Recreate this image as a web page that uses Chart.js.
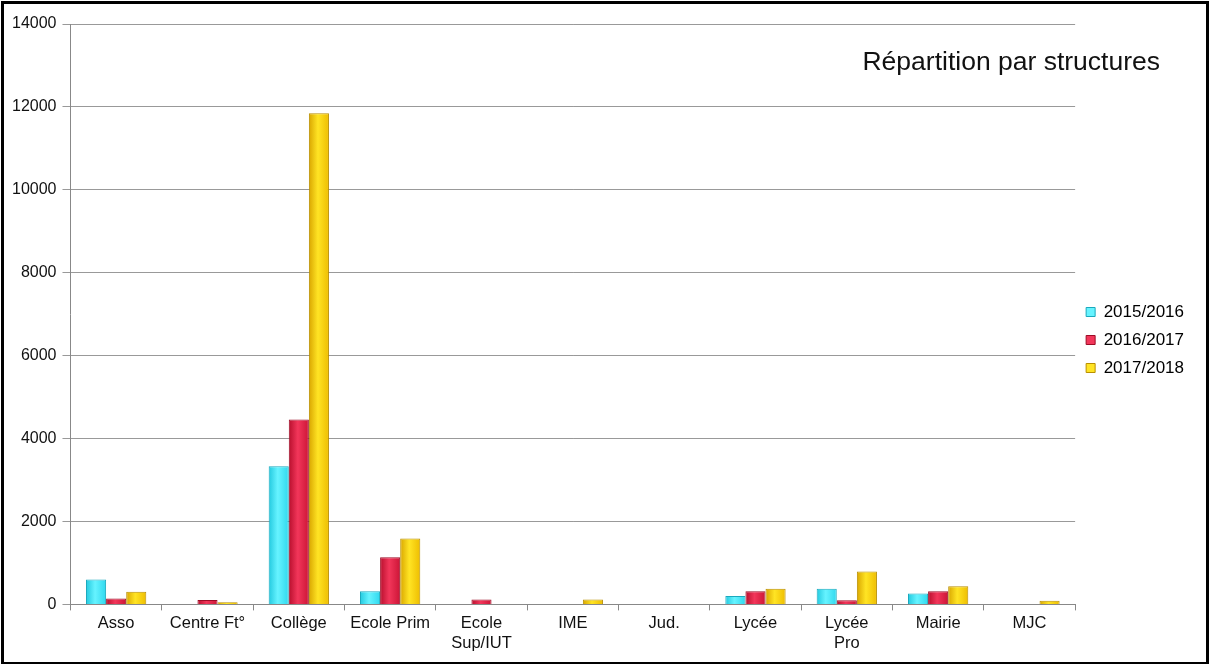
<!DOCTYPE html>
<html>
<head>
<meta charset="utf-8">
<script src="https://cdn.jsdelivr.net/npm/chart.js@4/dist/chart.umd.min.js"></script>
<style>
  body { margin: 0; background: #fff; }
  #wrap { position: absolute; left: 1px; top: 1px; width: 1202px; height: 658px; border: 3px solid #000; }
</style>
</head>
<body>
<div id="wrap"><canvas id="structures"></canvas></div>
<script>
const categories = ['Asso', 'Centre Ft°', 'Collège', 'Ecole Prim', ['Ecole', 'Sup/IUT'], 'IME', 'Jud.', 'Lycée', ['Lycée', 'Pro'], 'Mairie', 'MJC']
const seriesNames = ['2015/2016', '2016/2017', '2017/2018']
const values2015 = [600, 0, 3330, 320, 0, 0, 0, 200, 380, 265, 0]
const values2016 = [140, 105, 4460, 1140, 120, 0, 0, 320, 100, 320, 0]
const values2017 = [305, 50, 11850, 1590, 0, 120, 0, 380, 795, 435, 90]
const yTicks = [0, 2000, 4000, 6000, 8000, 10000, 12000, 14000]

const colors = [
    ['#22c9df', '#66f3ff', '#2fd8ee'],
    ['#b80f2d', '#f2365a', '#cc1536'],
    ['#d9a600', '#ffe424', '#eebd00']
]
const borders = ['#1aa9bd', '#9c0c26', '#b98f00']
const font = '"Liberation Sans", Arial, sans-serif'

const context = document.getElementById('structures').getContext('2d')

// horizontal gradient on each bar for the bevelled look
const bevelPlugin = {
    id: 'bevel',
    beforeDatasetDraw: (chart, args) => {
        const i = args.index
        const c = chart.ctx
        args.meta.data.forEach(bar => {
            const x0 = bar.x - bar.width / 2
            const g = c.createLinearGradient(x0, 0, x0 + bar.width, 0)
            g.addColorStop(0, colors[i][0])
            g.addColorStop(0.45, colors[i][1])
            g.addColorStop(1, colors[i][2])
            bar.options = Object.assign({}, bar.options, { backgroundColor: g })
        })
    }
}

const titlePlugin = {
    id: 'cornerTitle',
    afterDraw: (chart) => {
        const c = chart.ctx
        c.save()
        c.font = '26.5px ' + font
        c.fillStyle = '#111'
        c.textAlign = 'right'
        c.textBaseline = 'middle'
        c.fillText('Répartition par structures', chart.width - 46, 59)
        c.restore()
    }
}

const datasets = [values2015, values2016, values2017].map((values, i) => ({
    label: seriesNames[i],
    data: values,
    backgroundColor: () => colors[i][1],
    borderColor: borders[i],
    borderWidth: 1,
    barPercentage: 1.0,
    categoryPercentage: 0.66
}))

const chart = new Chart(context, {
    type: 'bar',
    data: { labels: categories, datasets: datasets },
    plugins: [bevelPlugin, titlePlugin],
    options: {
        responsive: true,
        maintainAspectRatio: false,
        animation: false,
        layout: { padding: { top: 20, left: 2, right: 12, bottom: 6 } },
        plugins: {
            tooltip: { enabled: false },
            legend: {
                position: 'right',
                labels: {
                    boxWidth: 9,
                    boxHeight: 9,
                    padding: 11,
                    color: '#111',
                    font: { size: 17, family: font },
                    generateLabels: () => seriesNames.map((name, i) => ({
                        text: name,
                        fillStyle: colors[i][1],
                        strokeStyle: borders[i],
                        lineWidth: 1,
                        datasetIndex: i
                    }))
                }
            }
        },
        scales: {
            x: {
                grid: { display: true, drawOnChartArea: false, offset: true, tickLength: 6, color: '#888' },
                border: { color: '#888' },
                ticks: { color: '#111', font: { size: 16.5, family: font }, maxRotation: 0, autoSkip: false }
            },
            y: {
                min: 0,
                max: 14000,
                afterBuildTicks: (axis) => { axis.ticks = yTicks.map(v => ({ value: v })) },
                grid: { color: '#999', tickLength: 8, lineWidth: 1 },
                border: { color: '#888' },
                ticks: { color: '#111', padding: 6, font: { size: 16, family: font }, callback: (v) => String(v) }
            }
        }
    }
})
</script>
</body>
</html>
